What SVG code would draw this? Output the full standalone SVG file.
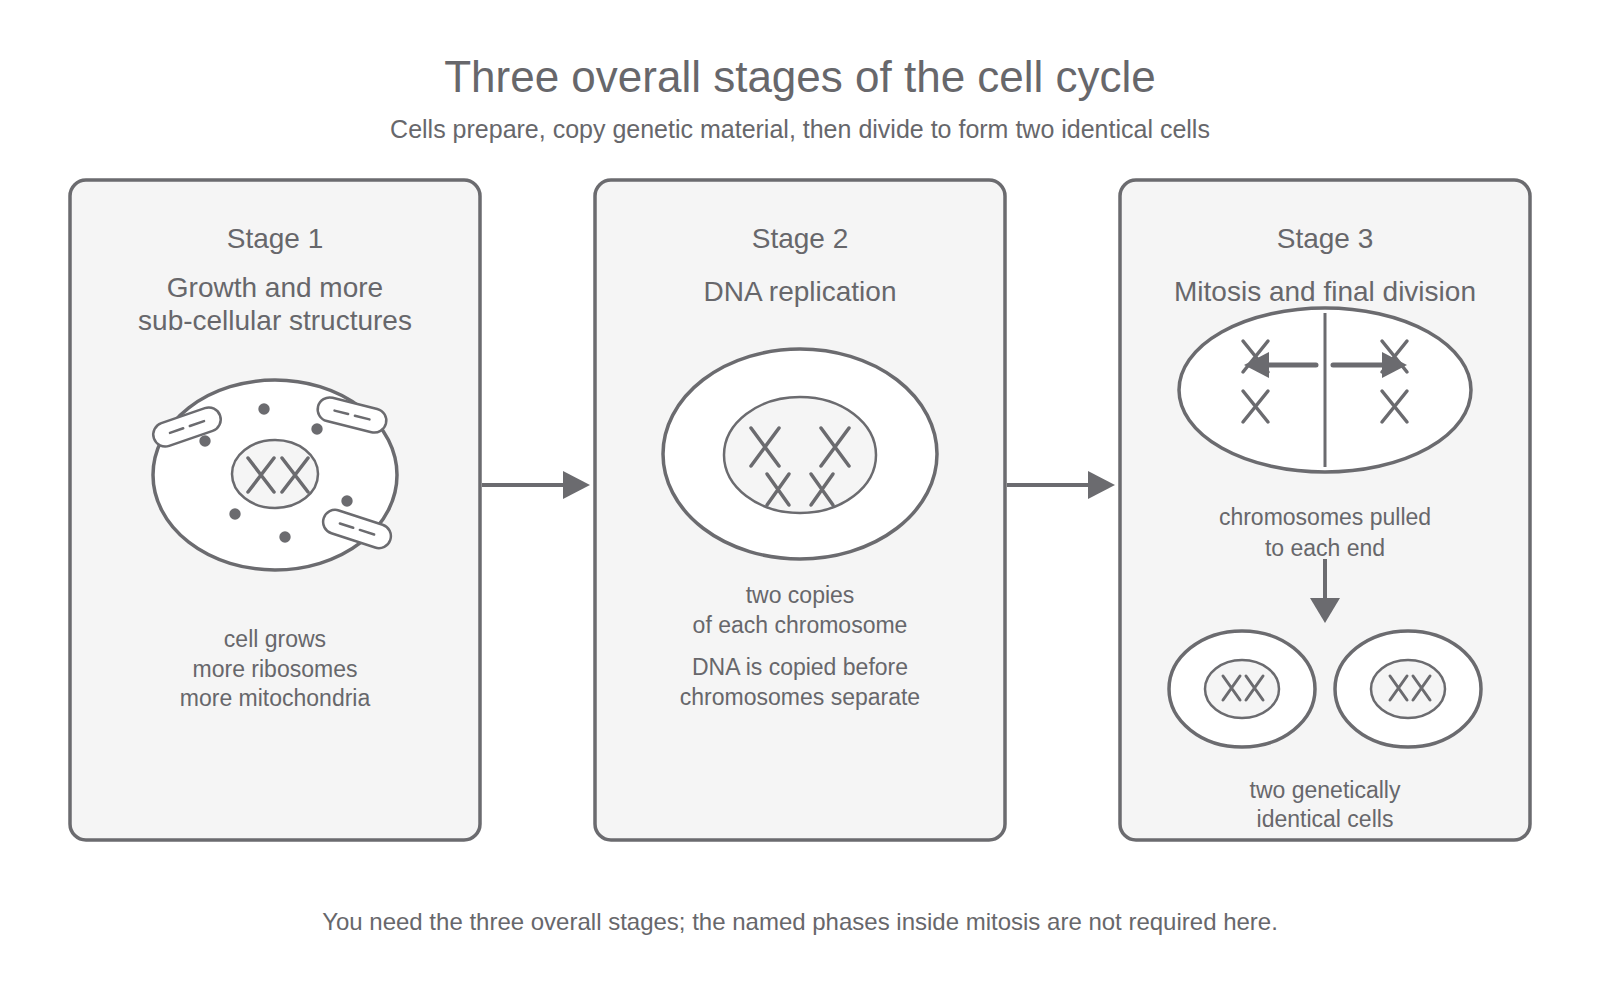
<svg xmlns="http://www.w3.org/2000/svg" width="1600" height="1000" viewBox="0 0 1600 1000">
<defs>
<style>
text{font-family:"Liberation Sans",Arial,sans-serif;fill:#67676b;text-anchor:middle}
.title{font-size:44px}
.sub{font-size:25px}
.hd{font-size:28px}
.body{font-size:23px}
.foot{font-size:24px}
.box{fill:#f5f5f5;stroke:#6b6b6f;stroke-width:3.5}
.cell{fill:#ffffff;stroke:#6b6b6f;stroke-width:3.5}
.nuc{fill:#f5f5f5;stroke:#6b6b6f;stroke-width:2.5}
.chr{fill:none;stroke:#6b6b6f;stroke-width:3.5;stroke-linecap:round}
.chrs{fill:none;stroke:#6b6b6f;stroke-width:3;stroke-linecap:round}
.dot{fill:#6b6b6f}
.line{fill:none;stroke:#6b6b6f;stroke-width:4}
.head{fill:#6b6b6f}
</style>
<g id="mito">
<rect x="-35" y="-12" width="70" height="24" rx="12" fill="#ffffff" stroke="#6b6b6f" stroke-width="2.5"/>
<path d="M-18 0H-4M3 0H18" stroke="#6b6b6f" stroke-width="2.5" stroke-linecap="round"/>
</g>
</defs>
<rect width="1600" height="1000" fill="#ffffff"/>
<text class="title" x="800" y="92">Three overall stages of the cell cycle</text>
<text class="sub" x="800" y="138">Cells prepare, copy genetic material, then divide to form two identical cells</text>

<g id="stage1">
<rect class="box" x="70" y="180" width="410" height="660" rx="16"/>
<text class="hd" x="275" y="248">Stage 1</text>
<text class="hd" x="275" y="297">Growth and more</text>
<text class="hd" x="275" y="330">sub-cellular structures</text>
<ellipse class="cell" cx="275" cy="475" rx="122" ry="95"/>
<ellipse class="nuc" cx="275" cy="474" rx="43" ry="34"/>
<path class="chr" d="M248 458L274 492M274 458L248 492M282 458L308 492M308 458L282 492"/>
<circle class="dot" cx="264" cy="409" r="5.7"/>
<circle class="dot" cx="317" cy="429" r="5.7"/>
<circle class="dot" cx="205" cy="441" r="5.7"/>
<circle class="dot" cx="347" cy="501" r="5.7"/>
<circle class="dot" cx="235" cy="514" r="5.7"/>
<circle class="dot" cx="285" cy="537" r="5.7"/>
<use href="#mito" transform="translate(187 427) rotate(-19)"/>
<use href="#mito" transform="translate(352 415) rotate(14)"/>
<use href="#mito" transform="translate(357 529) rotate(18)"/>
<text class="body" x="275" y="647">cell grows</text>
<text class="body" x="275" y="677">more ribosomes</text>
<text class="body" x="275" y="706">more mitochondria</text>
</g>

<g id="stage2">
<rect class="box" x="595" y="180" width="410" height="660" rx="16"/>
<text class="hd" x="800" y="248">Stage 2</text>
<text class="hd" x="800" y="301">DNA replication</text>
<ellipse class="cell" cx="800" cy="454" rx="137" ry="105"/>
<ellipse class="nuc" cx="800" cy="455" rx="76" ry="58"/>
<path class="chr" d="M751 428L779 466M779 428L751 466M821 428L849 466M849 428L821 466"/>
<path class="chr" d="M767 474L789 505M789 474L767 505M811 474L833 505M833 474L811 505"/>
<text class="body" x="800" y="603">two copies</text>
<text class="body" x="800" y="633">of each chromosome</text>
<text class="body" x="800" y="675">DNA is copied before</text>
<text class="body" x="800" y="705">chromosomes separate</text>
</g>

<g id="stage3">
<rect class="box" x="1120" y="180" width="410" height="660" rx="16"/>
<text class="hd" x="1325" y="248">Stage 3</text>
<text class="hd" x="1325" y="301">Mitosis and final division</text>
<ellipse class="cell" cx="1325" cy="390" rx="146" ry="82"/>
<path class="line" d="M1325 313V467" style="stroke-width:3"/>
<path class="chr" d="M1243 341L1268 372M1268 341L1243 372M1243 391L1268 422M1268 391L1243 422"/>
<path class="chr" d="M1382 341L1407 372M1407 341L1382 372M1382 391L1407 422M1407 391L1382 422"/>
<path class="line" d="M1316 365H1264M1333 365H1386" style="stroke-width:5;stroke-linecap:round"/>
<polygon class="head" points="1244,365 1269,352 1269,378"/>
<polygon class="head" points="1407,365 1382,352 1382,378"/>
<text class="body" x="1325" y="525">chromosomes pulled</text>
<text class="body" x="1325" y="556">to each end</text>
<path class="line" d="M1325 559V600"/>
<polygon class="head" points="1310,598 1340,598 1325,623"/>
<ellipse class="cell" cx="1242" cy="689" rx="73" ry="58"/>
<ellipse class="nuc" cx="1242" cy="689" rx="37" ry="29"/>
<path class="chrs" d="M1223 676L1240 700M1240 676L1223 700M1246 676L1263 700M1263 676L1246 700"/>
<ellipse class="cell" cx="1408" cy="689" rx="73" ry="58"/>
<ellipse class="nuc" cx="1408" cy="689" rx="37" ry="29"/>
<path class="chrs" d="M1390 676L1407 700M1407 676L1390 700M1413 676L1430 700M1430 676L1413 700"/>
<text class="body" x="1325" y="798">two genetically</text>
<text class="body" x="1325" y="827">identical cells</text>
</g>

<g id="connectors">
<path class="line" d="M482 485H565"/>
<polygon class="head" points="590,485 563,471 563,499"/>
<path class="line" d="M1007 485H1090"/>
<polygon class="head" points="1115,485 1088,471 1088,499"/>
</g>

<text class="foot" x="800" y="930">You need the three overall stages; the named phases inside mitosis are not required here.</text>
</svg>
